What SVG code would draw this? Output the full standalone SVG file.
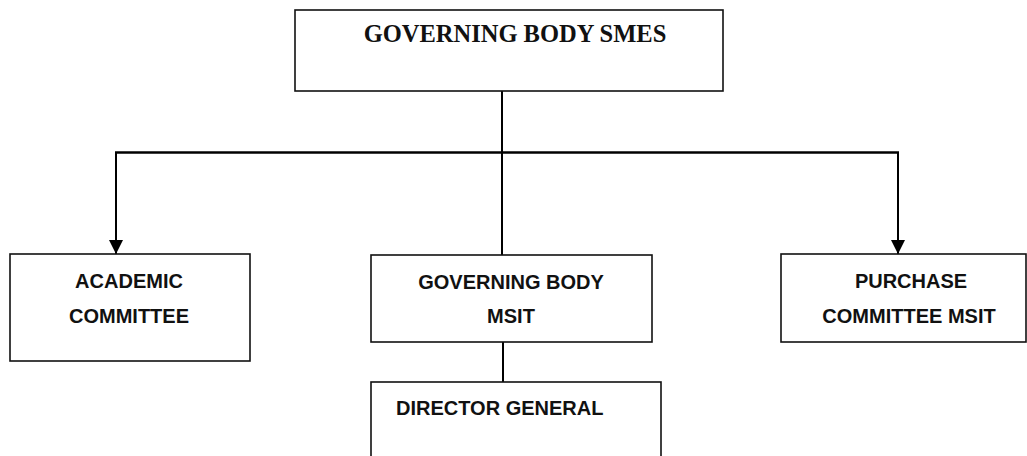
<svg xmlns="http://www.w3.org/2000/svg" width="1027" height="456" viewBox="0 0 1027 456">
<style>
.box{fill:#fff;stroke:#111;stroke-width:1.6}
.t{font-family:"Liberation Sans",Arial,sans-serif;font-weight:bold;font-size:20px;fill:#111;text-anchor:middle}
.ts{font-family:"Liberation Serif","Times New Roman",serif;font-weight:bold;font-size:24.5px;fill:#111;text-anchor:middle}
.c{fill:none;stroke:#000;stroke-width:2}
</style>
<defs>
<marker id="arr" viewBox="0 0 12 12" refX="12" refY="6" markerWidth="14" markerHeight="14" markerUnits="userSpaceOnUse" orient="auto">
<path d="M0,0 L12,6 L0,12 z" fill="#000"/>
</marker>
</defs>
<g id="connectors">
<line class="c" x1="502" y1="91" x2="502" y2="255"/>
<line class="c" x1="115" y1="152.5" x2="899" y2="152.5" style="stroke-width:2.6"/>
<line class="c" x1="116" y1="152" x2="116" y2="254" marker-end="url(#arr)"/>
<line class="c" x1="898" y1="152" x2="898" y2="254" marker-end="url(#arr)"/>
<line class="c" x1="503" y1="342" x2="503" y2="382"/>
</g>
<g id="governing-body-smes">
<rect class="box" x="295" y="10" width="428" height="81"/>
<text class="ts" x="515" y="42">GOVERNING BODY SMES</text>
</g>
<g id="academic-committee">
<rect class="box" x="10" y="254" width="240" height="107"/>
<text class="t" x="129" y="288">ACADEMIC</text>
<text class="t" x="129" y="323">COMMITTEE</text>
</g>
<g id="governing-body-msit">
<rect class="box" x="371" y="255" width="281" height="87"/>
<text class="t" x="511" y="289">GOVERNING BODY</text>
<text class="t" x="511" y="323">MSIT</text>
</g>
<g id="purchase-committee-msit">
<rect class="box" x="781" y="254" width="245" height="88"/>
<text class="t" x="911" y="288">PURCHASE</text>
<text class="t" x="909" y="323">COMMITTEE MSIT</text>
</g>
<g id="director-general">
<rect class="box" x="371" y="382" width="290" height="90"/>
<text class="t" x="396" y="415" style="text-anchor:start">DIRECTOR GENERAL</text>
</g>
</svg>
